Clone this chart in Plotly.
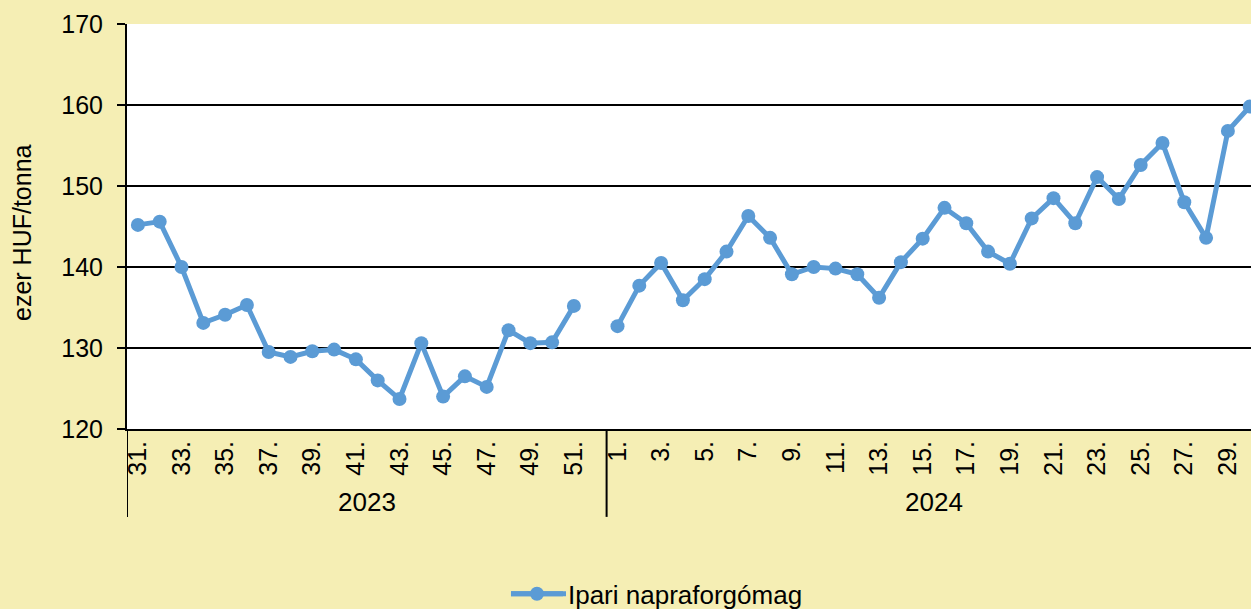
import plotly.graph_objects as go

weeks_2023 = list(range(31, 53))
weeks_2024 = list(range(1, 31))
values_2023 = [145.2, 145.6, 140.0, 133.1, 134.1, 135.3, 129.5, 128.9, 129.6, 129.8,
               128.6, 126.0, 123.7, 130.6, 124.0, 126.5, 125.2, 132.2, 130.6, 130.7,
               135.2, None]
values_2024 = [132.7, 137.7, 140.5, 135.9, 138.5, 141.9, 146.3, 143.6, 139.1, 140.0,
               139.8, 139.1, 136.2, 140.6, 143.5, 147.3, 145.4, 141.9, 140.4, 146.0,
               148.5, 145.4, 151.1, 148.4, 152.6, 155.3, 148.0, 143.6, 156.8, 159.8]
years = ["2023", "2024"]
series_name = "Ipari napraforgómag"
y_title = "ezer HUF/tonna"
y_ticks = [120, 130, 140, 150, 160, 170]

labels = [f"{w}." for w in weeks_2023] + [f"{w}." for w in weeks_2024]
values = values_2023 + values_2024
xs = list(range(len(labels)))
tickvals = [i for i, w in enumerate(weeks_2023 + weeks_2024) if w % 2 == 1]
ticktext = [labels[i] for i in tickvals]

FONT = "Liberation Sans, Arial, sans-serif"
BG = "#F5EEB4"
BLUE = "#5B9BD5"

fig = go.Figure()
fig.add_trace(go.Scatter(
    x=xs, y=values, mode="lines+markers", name=series_name,
    line=dict(color=BLUE, width=5), marker=dict(color=BLUE, size=14),
    connectgaps=False,
))

n23 = len(weeks_2023)
n_all = len(labels)
fig.update_layout(
    width=1251, height=609,
    margin=dict(l=127, r=0, t=24, b=180, pad=0, autoexpand=False),
    paper_bgcolor=BG, plot_bgcolor="white",
    font=dict(family=FONT, size=25, color="black"),
    showlegend=True,
    legend=dict(orientation="h", x=0.4715, xanchor="center", y=-0.407, yanchor="middle",
                itemwidth=52,
                bgcolor="rgba(0,0,0,0)", font=dict(size=26)),
    xaxis=dict(range=[-0.5, 51.06], tickvals=tickvals, ticktext=ticktext,
               tickangle=-90, showgrid=False, zeroline=False,
               ticks="",
               showline=True, linecolor="black", linewidth=2,
               tickfont=dict(size=25)),
    yaxis=dict(range=[120, 170], tickvals=y_ticks, showgrid=True, gridcolor="black",
               gridwidth=2, zeroline=False, showline=True, linecolor="black", linewidth=2,
               ticks="outside", ticklen=8, tickcolor="black", tickwidth=2,
               ticklabelstandoff=9,
               tickfont=dict(size=25)),
)

# group divider lines below axis
for xv in [-0.5, n23 - 0.5]:
    fig.add_shape(type="line", xref="x", yref="paper", x0=xv, x1=xv, y0=0, y1=-0.217,
                  line=dict(color="black", width=2))

# longer legend line (reference symbol is wider than plotly's default)
fig.add_shape(type="line", xref="paper", yref="paper",
              x0=(511 - 127) / 1124, x1=(566 - 127) / 1124, y0=-0.407, y1=-0.407,
              line=dict(color=BLUE, width=5), layer="below")

# year group labels
centers = [(-0.5 + n23 - 0.5) / 2, (n23 - 0.5 + n_all - 0.5) / 2]
for yr, c in zip(years, centers):
    fig.add_annotation(x=c, xref="x", y=-0.180, yref="paper", text=yr, showarrow=False,
                       xanchor="center", yanchor="middle", font=dict(size=26))

fig.add_annotation(x=-0.0934, xref="paper", y=0.484, yref="paper", text=y_title,
                   textangle=-90, showarrow=False, xanchor="center", yanchor="middle",
                   font=dict(size=25))

fig.write_html("out.html", config={"displayModeBar": False},
               post_script="document.body.style.margin='0';")
